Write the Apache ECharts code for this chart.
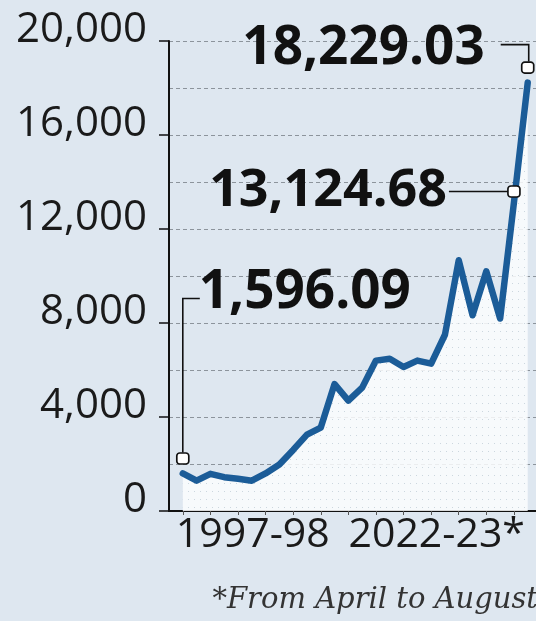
<!DOCTYPE html>
<html><head><meta charset="utf-8">
<script src="https://cdn.jsdelivr.net/npm/echarts@6/dist/echarts.min.js"></script>
<style>html,body{margin:0;padding:0;background:#dee7f0;}#c{width:536px;height:621px;}</style>
</head><body><div id="c"></div>
<script>
// ---- data ----
const years = ['1997-98','1998-99','1999-00','2000-01','2001-02','2002-03','2003-04','2004-05','2005-06','2006-07','2007-08','2008-09','2009-10','2010-11','2011-12','2012-13','2013-14','2014-15','2015-16','2016-17','2017-18','2018-19','2019-20','2020-21','2021-22','2022-23*'];
const values = [1596.09,1290,1580,1440,1370,1290,1600,1980,2600,3250,3550,5400,4700,5250,6400,6480,6130,6400,6270,7500,10670,8330,10200,8190,13124.68,18229.03];
const yTicks = [0,4000,8000,12000,16000,20000];
const gridTicks = [0,2000,4000,6000,8000,10000,12000,14000,16000,18000,20000];
const xTickIdx = [0,2,4,6,8,10,12,14,16,18,20,22,24];
const xLabelIdx = [0, years.length-1];
const callouts = [
  {idx:0, text:'1,596.09'},
  {idx:24, text:'13,124.68'},
  {idx:25, text:'18,229.03'}
];
const footnote = '*From April to August';

// dotted fill pattern
const pc = document.createElement('canvas');
pc.width = 6; pc.height = 8;
const pctx = pc.getContext('2d');
pctx.fillStyle = 'rgba(252,253,254,0.85)';
pctx.fillRect(0,0,6,8);
pctx.fillStyle = 'rgba(170,185,200,0.55)';
pctx.fillRect(2,3,1,1);

const markerOffsets = {0:-15, 24:-11, 25:-15};
const seriesData = values.map((v,i)=>{
  const d = {value:[i,v]};
  if (markerOffsets[i] !== undefined) {
    d.symbol = 'roundRect';
    d.symbolSize = [12,11];
    d.symbolOffset = [0, markerOffsets[i]];
    d.itemStyle = {color:'#ffffff', borderColor:'#111', borderWidth:1.6};
  }
  return d;
});

const chart = echarts.init(document.getElementById('c'), null, {renderer:'canvas'});
const axisFont = '"Open Sans", sans-serif';
chart.setOption({
  animation:false,
  backgroundColor:'#dee7f0',
  grid:{left:169, right:0, top:41, bottom:110},
  xAxis:{
    type:'value', min:-1, max:25.6,
    axisLine:{show:true, onZero:false, lineStyle:{color:'#111', width:2}},
    axisTick:{show:true, customValues:xTickIdx, length:4, lineStyle:{color:'#555', width:1}},
    splitLine:{show:false},
    axisLabel:{
      show:true, customValues:xLabelIdx, margin:4,
      formatter:(v)=> v===0 ? '{a|'+years[0]+'}' : '{b|'+years[years.length-1]+'}',
      rich:{
        a:{fontFamily:axisFont, fontSize:41, color:'#1a1a1a', padding:[0,0,0,140]},
        b:{fontFamily:axisFont, fontSize:41, color:'#1a1a1a', padding:[0,182,0,0]}
      }
    }
  },
  yAxis:[{
    type:'value', min:0, max:20000, interval:4000,
    axisLine:{show:true, onZero:false, lineStyle:{color:'#111', width:2}},
    axisTick:{show:true, length:10, lineStyle:{color:'#111', width:1.5}},
    splitLine:{show:false},
    axisLabel:{
      margin:22, fontFamily:axisFont, fontSize:42, color:'#1a1a1a',
      verticalAlign:'bottom', lineHeight:21,
      formatter:(v)=> yTicks.indexOf(v)>=0 ? v.toLocaleString('en-US') : ''
    }
  },{
    type:'value', min:0, max:20000, interval:2000, position:'left',
    axisLine:{show:false, onZero:false}, axisTick:{show:false}, axisLabel:{show:false},
    splitLine:{show:true, lineStyle:{color:'#8c949c', width:1, type:[4,3]}}
  }],
  series:[{
    type:'line', yAxisIndex:0, data:seriesData,
    symbol:'none', showSymbol:true, showAllSymbol:true,
    lineStyle:{color:'#1b5c98', width:6.5, join:'round', cap:'round'},
    areaStyle:{color:{image:pc, repeat:'repeat'}, opacity:1, origin:'start'},
    emphasis:{disabled:true}, silent:true, z:3
  }]
});

// callouts
const boldFont = 'bold 53px "Open Sans", sans-serif';
const g = [];
function px(i){ const p = chart.convertToPixel({xAxisIndex:0, yAxisIndex:0}, [i, values[i]]); return [p[0], p[1] + (markerOffsets[i]||0)]; }
const lineSt = {stroke:'#111', lineWidth:1.6, fill:null};
{ // first
  const m = px(callouts[0].idx);
  g.push({type:'text', z:10, style:{text:callouts[0].text, x:m[0]+16, y:m[1]-166, font:boldFont, fill:'#111', align:'left', verticalAlign:'middle'}});
  g.push({type:'polyline', z:10, shape:{points:[[m[0]+17, m[1]-160],[m[0], m[1]-160],[m[0], m[1]-6]]}, style:lineSt});
}
{ // second
  const m = px(callouts[1].idx);
  g.push({type:'text', z:10, style:{text:callouts[1].text, x:m[0]-67, y:m[1], font:'bold 52px "Open Sans", sans-serif', fill:'#111', align:'right', verticalAlign:'middle'}});
  g.push({type:'polyline', z:10, shape:{points:[[m[0]-65, m[1]],[m[0]-6, m[1]]]}, style:lineSt});
}
{ // third
  const m = px(callouts[2].idx);
  g.push({type:'text', z:10, style:{text:callouts[2].text, x:m[0]-43, y:m[1]-19, font:boldFont, fill:'#111', align:'right', verticalAlign:'middle'}});
  g.push({type:'polyline', z:10, shape:{points:[[m[0]-27, m[1]-23],[m[0]+1, m[1]-23],[m[0]+1, m[1]-6]]}, style:lineSt});
}
g.push({type:'text', z:10, right:-2, bottom:6, style:{text:footnote, font:'italic 29px "DejaVu Serif", serif', fill:'#333'}});
chart.setOption({graphic:g});
</script></body></html>
